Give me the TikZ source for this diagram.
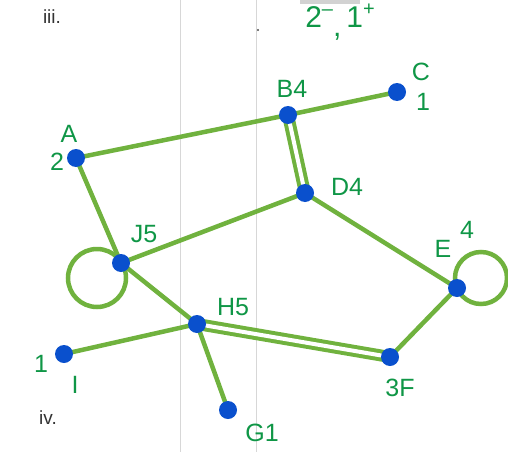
\documentclass[tikz,border=0pt]{standalone}
\usepackage{fontspec}
\setmainfont{Liberation Sans}
\definecolor{edgegreen}{RGB}{112,178,62}
\definecolor{dotblue}{RGB}{10,80,205}
\definecolor{inkgreen}{RGB}{15,150,70}
\definecolor{rulegray}{RGB}{215,215,215}
\begin{document}
\begin{tikzpicture}[x=1pt,y=-1pt,
  vtx/.style={circle,fill=dotblue,inner sep=0pt,minimum size=18pt},
  edg/.style={draw=edgegreen,line width=4.5pt},
  dbl/.style={draw=edgegreen,double=white,double distance=4pt,line width=4pt},
  lbl/.style={text=inkgreen,font=\fontsize{25}{25}\selectfont},
  tag/.style={text=black!80,font=\fontsize{19}{19}\selectfont}]
\useasboundingbox (0,0) rectangle (508,452);
% background page rules
\draw[rulegray,line width=1pt] (180,0) -- (180,452);
\draw[rulegray,line width=1pt] (256,0) -- (256,452);
\fill[gray!35] (300,0) rectangle (360,4);
\fill[black!70] (258,30) circle (1.2pt);
% vertex positions
\coordinate (A) at (76,158);
\coordinate (B) at (288,115);
\coordinate (C) at (397,92);
\coordinate (D) at (305,193);
\coordinate (E) at (457,288);
\coordinate (F) at (390,357);
\coordinate (G) at (228,410);
\coordinate (H) at (197,324);
\coordinate (I) at (64,354);
\coordinate (J) at (121,263);
% edges
\path[edg] (A) -- (B);
\path[edg] (B) -- (C);
\path[dbl] (B) -- (D);
\path[edg] (A) -- (J);
\path[edg] (J) -- (D);
\path[edg] (D) -- (E);
\path[edg] (E) -- (F);
\path[dbl] (H) -- (F);
\path[edg] (H) -- (I);
\path[edg] (H) -- (G);
\path[edg] (J) -- (H);
\draw[edgegreen,line width=4.5pt] (97,278) circle (29);
\draw[edgegreen,line width=4.5pt] (481,278) circle (26);
% vertices on top
\foreach \v in {A,B,C,D,E,F,G,H,I,J}
  \node[vtx] (v\v) at (\v) {};
% labels
\node[lbl] (lA) at (69,134) {A};
\node[lbl] (lA2) at (57,162) {2};
\node[lbl] (lB) at (292,89) {B4};
\node[lbl] (lC) at (421,72) {C};
\node[lbl] (lC1) at (423,102) {1};
\node[lbl] (lD) at (347,187) {D4};
\node[lbl] (lE) at (443,249) {E};
\node[lbl] (lE4) at (467,230) {4};
\node[lbl] (lJ) at (144,234) {J5};
\node[lbl] (lH) at (233,307) {H5};
\node[lbl] (lI1) at (41,364) {1};
\node[lbl] (lI) at (75,385) {I};
\node[lbl] (lF) at (400,388) {3F};
\node[lbl] (lG) at (262,433) {G1};
\node[lbl,font=\fontsize{30}{30}\selectfont] (deg) at (340,22) {2\raisebox{0.4em}{\fontsize{20}{20}\selectfont–}\raisebox{-0.3em}{,}\,1\raisebox{0.4em}{\fontsize{20}{20}\selectfont+}};
\node[tag] (t3) at (52,17) {iii.};
\node[tag] (t4) at (48,418) {iv.};
\end{tikzpicture}
\end{document}
